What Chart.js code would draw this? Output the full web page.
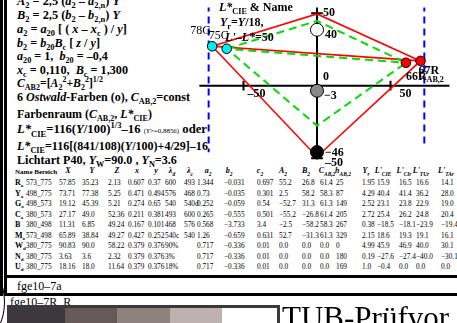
<!DOCTYPE html>
<html>
<head>
<meta charset="utf-8">
<script src="https://cdn.jsdelivr.net/npm/chart.js@4.4.1/dist/chart.umd.min.js"></script>
<style>
  html, body { margin: 0; padding: 0; background: #fff; }
  #page { position: relative; width: 457px; height: 323px; overflow: hidden;
          font-family: "Liberation Serif", "Times New Roman", serif; color: #000; }
  #chart { position: absolute; left: 0; top: 0; z-index: 2; }
  .ln { position: absolute; left: 17px; white-space: nowrap; font-weight: bold;
        font-size: 13px; line-height: 14px; z-index: 1; }
  .ln sub, .ln sup, .lbl sub, .th sub { font-size: 68%; line-height: 0; }
  .lbl { position: absolute; white-space: nowrap; font-weight: bold; font-size: 12px;
         line-height: 12px; z-index: 3; transform: translateY(-50%); }
  .lbl.thin { font-weight: normal; }
  .td { position: absolute; white-space: nowrap; font-size: 7.3px; line-height: 8px; z-index: 1; }
  .td b { font-size: 8px; }
  .td sub { font-size: 5px; line-height: 0; font-weight: bold; }
  .th { position: absolute; white-space: nowrap; font-size: 8px; line-height: 8px; font-weight: bold;
        font-style: italic; z-index: 1; transform: translateX(-50%); }
  .bar { position: absolute; background: #000; z-index: 1; }
</style>
</head>
<body>
<div id="page">
  <canvas id="chart" width="457" height="323"></canvas>
</div>
<script>
// ---- diagram values (A2 horizontal, L' vertical) ----
const redHullX = [-71.3, 0, 70.4, 0, -71.3, 70.4];
const redHullY = [27.2, 49.5, 17.1, -49, 27.2, 17.1];
const greenHullX = [-61.4, 0, 60.5, 0, -61.4, 60.5];
const greenHullY = [25.5, 44.7, 15.8, -27.6, 25.5, 15.8];
const cyanX = [-71.3, -61.4];
const cyanY = [27.2, 25.5];
const cyanNames = ['78G', '75C'];
const redX = [60.5, 70.4];
const redY = [15.8, 17.1];
const redNames = ['66R', '67R'];
const greyX = [0, 0, 0];
const greyY = [38.6, -3.5, -45.8];
const greyColors = ['#ffffff', '#888888', '#000000'];
const greyLabels = ['40', '−3', '−46'];
const blueX = [-73.7, 73];
const blueTop = 56;
const blueBottom = [-46, -40];
const xAxisRange = [-80, 92];
const yAxisRange = [56, -51];
const xTicks = [-50, 50];
const yTicks = [50, -50];

// ---- table values ----
const rowR = ['R', 'a', '573_775', '57.85', '35.23', '2.13', '0.607', '0.37', '600', '493', '1.344', '−0.031', '0.697', '55.2', '26.8', '61.4', '25', '1.95', '15.9', '16.5', '16.6', '14.1'];
const rowY = ['Y', 'a', '498_775', '73.71', '77.38', '5.25', '0.471', '0.494', '576', '468', '0.73', '−0.035', '0.301', '2.5', '58.2', '58.3', '87', '4.29', '40.4', '41.4', '36.2', '28.0'];
const rowG = ['G', 'o', '498_573', '19.12', '45.39', '5.21', '0.274', '0.65', '540', '540d', '0.252', '−0.059', '0.54', '−52.7', '31.3', '61.3', '149', '2.52', '23.1', '23.8', '22.9', '19.0'];
const rowC = ['C', 'a', '380_573', '27.17', '49.0', '52.36', '0.211', '0.381', '493', '600', '0.265', '−0.555', '0.501', '−55.2', '−26.8', '61.4', '205', '2.72', '25.4', '26.2', '24.8', '20.4'];
const rowB = ['B', '', '380_498', '11.31', '6.85', '49.24', '0.167', '0.101', '468', '576', '0.568', '−3.733', '3.4', '−2.5', '−58.2', '58.3', '267', '0.38', '−18.5', '−18.1', '−23.9', '−19.4'];
const rowM = ['M', 'o', '573_498', '65.89', '38.84', '49.27', '0.427', '0.252', '540c', '540', '1.26', '−0.659', '0.631', '52.7', '−31.3', '61.3', '329', '2.15', '18.6', '19.3', '19.1', '16.1'];
const rowW = ['W', 'd', '380_775', '90.83', '90.0', '58.22', '0.379', '0.376', '90%', '', '0.717', '−0.336', '0.01', '0.0', '0.0', '0.0', '0', '4.99', '45.9', '46.9', '40.0', '30.1'];
const rowN = ['N', 'd', '380_775', '3.63', '3.6', '2.32', '0.379', '0.376', '3%', '', '0.717', '−0.336', '0.01', '0.0', '0.0', '0.0', '180', '0.19', '−27.6', '−27.4', '−40.0', '−30.1'];
const rowU = ['U', 'd', '380_775', '18.16', '18.0', '11.64', '0.379', '0.376', '18%', '', '0.717', '−0.336', '0.01', '0.0', '0.0', '0.0', '169', '1.0', '−0.4', '0.0', '0.0', '0.0'];
const tableRows = [rowR, rowY, rowG, rowC, rowB, rowM, rowW, rowN, rowU];
const headers = ['<i>X</i>', '<i>Y</i>', '<i>Z</i>', '<i>x</i>', '<i>y</i>', 'λ<sub>d</sub>', 'λ<sub>c</sub>',
  '<i>a</i><sub>2</sub>', '<i>b</i><sub>2</sub>', '<i>c</i><sub>2</sub>', '<i>A</i><sub>2</sub>', '<i>B</i><sub>2</sub>',
  '<i>C</i><sub>AB,2</sub>', '<i>h</i><sub>AB,2</sub>', '<i>Y</i><sub>r</sub>', '<i>L\'</i><sub>CIE</sub>',
  '<i>L\'</i><sub>CIr</sub>', '<i>L\'</i><sub>TUr</sub>', '<i>L\'</i><sub>TAr</sub>'];

// ---- left text block ----
const textLines = [
  '<i>A</i><sub>2</sub> = 2,5 (<i>a</i><sub>2</sub> – <i>a</i><sub>2,n</sub>) <i>Y</i>',
  '<i>B</i><sub>2</sub> = 2,5 (<i>b</i><sub>2</sub> – <i>b</i><sub>2,n</sub>) <i>Y</i>',
  '<i>a</i><sub>2</sub> = <i>a</i><sub>20</sub> [ ( <i>x</i> – <i>x</i><sub>c</sub> ) / <i>y</i>]',
  '<i>b</i><sub>2</sub> = <i>b</i><sub>20</sub><i>B</i><sub>c</sub> [ <i>z</i> / <i>y</i>]',
  '<i>a</i><sub>20</sub> = 1,&nbsp; <i>b</i><sub>20</sub> = –0,4',
  '<i>x</i><sub>c</sub> = 0,110,&nbsp; <i>B</i><sub>c</sub> = 1,300',
  '<i>C</i><sub>AB2</sub>=[<i>A</i><sub>2</sub><sup>2</sup>+<i>B</i><sub>2</sub><sup>2</sup>]<sup>1/2</sup>',
  '6 <i>Ostwald</i>-Farben (o), <i>C</i><sub>AB,2</sub>=const',
  'Farbenraum (<i>C</i><sub>AB,2</sub>, <i>L*</i><sub>CIE</sub>)',
  '<i>L*</i><sub>CIE</sub>=116(<i>Y</i>/100)<sup>1/3</sup>–16 <span style="font-size:55%;font-weight:normal">(<i>Y</i>&gt;=0,8856)</span> oder',
  '<i>L*</i><sub>CIE</sub>=116[(841/108)(<i>Y</i>/100)+4/29]–16',
  'Lichtart P40, <i>Y</i><sub>W</sub>=90.0 , <i>Y</i><sub>N</sub>=3.6'
];
const lineCenters = [1, 15, 29, 43, 56, 70, 84, 97, 114, 129, 146, 160];
const lineEnds = [120, 120, 127, 100, 108, 128, 103, 190, 152, 207, 208, 177];

const page = document.getElementById('page');
function add(cls, html, css) {
  const d = document.createElement('div');
  d.className = cls;
  d.innerHTML = html;
  Object.assign(d.style, css);
  page.appendChild(d);
  return d;
}

// each text line is sized so that it ends where it does in the reference
textLines.forEach((t, i) => {
  const d = add('ln', t, {});
  const w = d.getBoundingClientRect().width;
  const fs = Math.max(10.5, Math.min(14.5, 13 * (lineEnds[i] - 17) / w));
  d.style.fontSize = fs.toFixed(2) + 'px';
  d.style.top = (lineCenters[i] - 7) + 'px';
});

// table
const colX = [15, 26, 59, 82, 108, 128, 148, 165, 184, 197, 224, 257, 279, 302, 320, 336, 362, 377, 399, 416, 441];
const headX = [68, 92, 117, 137, 156, 172, 190, 208, 229, 260, 283, 306, 327, 343, 366, 383, 404, 421, 446];
const headY = 172, rowY0 = 183, rowStep = 10.5;
add('td', '<b style="font-size:7px">Name Bereich</b>', { left: '15px', top: (headY - 4) + 'px' });
headers.forEach((h, i) => add('th', h, { left: headX[i] + 'px', top: (headY - 5) + 'px' }));
tableRows.forEach((row, r) => {
  const top = (rowY0 + r * rowStep - 4) + 'px';
  add('td', '<b>' + row[0] + '</b><sub>' + row[1] + '</sub>', { left: colX[0] + 'px', top });
  row.slice(2).forEach((v, c) => add('td', v, { left: colX[c + 1] + 'px', top }));
});

// frame lines and footer
add('bar', '', { left: '0px', top: '0px', width: '3px', height: '296px' });
add('bar', '', { left: '4px', top: '0px', width: '3px', height: '296px' });
add('bar', '', { left: '7px', top: '275px', width: '450px', height: '3px' });
add('bar', '', { left: '4px', top: '293px', width: '453px', height: '3px' });
add('ln', '<span style="font-weight:normal;font-size:12px">fge10–7a</span>', { left: '17px', top: '279px' });
add('ln', '<span style="font-weight:normal;font-size:12px">fge10–7R&nbsp; R</span>', { left: '10px', top: '295px' });
add('bar', '', { left: '-35px', top: '267px', width: '38px', height: '68px', background: 'none',
  border: '1px solid #000', borderRadius: '50%', zIndex: 3 });
const swatchColors = ['#3b393d', '#665957', '#8d807d', '#bdb2af', '#ffffff'];
const swatchX = [7, 65, 117, 170, 222, 277];
swatchColors.forEach((c, i) => add('bar', '', { left: swatchX[i] + 'px', top: '305px',
  width: (swatchX[i + 1] - swatchX[i]) + 'px', height: '18px', background: c, zIndex: 4 }));
add('bar', '', { left: '7px', top: '305px', width: '273px', height: '3px', background: '#3a393d', zIndex: 4 });
add('bar', '', { left: '277px', top: '305px', width: '3px', height: '18px', background: '#3a393d', zIndex: 4 });
add('ln', '<span style="font-weight:normal;font-size:31px;line-height:31px">TUB-Prüfvor</span>',
  { left: '282px', top: '302px', zIndex: 4 });

// ---- diagram ----
const origin = { x: 320, y: 82 };
const pxPerUnit = 1.52;
const W = 457, H = 323;

const pts = (xs, ys) => xs.map((x, i) => ({ x, y: ys[i] }));
const seg = (a, b, color, width, dash) => ({
  data: [a, b], showLine: true, borderColor: color, borderWidth: width,
  borderDash: dash || [], pointRadius: 0, fill: false
});

const datasets = [
  { data: pts(greyX, greyY), pointRadius: 6.5, pointBackgroundColor: greyColors,
    pointBorderColor: '#000', pointBorderWidth: 1, showLine: false },
  { data: pts(redX, redY), pointRadius: 4.8, pointBackgroundColor: '#ff0000',
    pointBorderColor: '#000', pointBorderWidth: 1, showLine: false },
  { data: pts(cyanX, cyanY), pointRadius: 4.8, pointBackgroundColor: '#00f0f0',
    pointBorderColor: '#000', pointBorderWidth: 1, showLine: false },
  { data: pts(greenHullX, greenHullY), showLine: true, borderColor: '#00dd00', borderWidth: 2,
    borderDash: [8, 5], pointRadius: 0 },
  { data: pts(redHullX, redHullY), showLine: true, borderColor: '#ff0000', borderWidth: 1.6,
    pointRadius: 0 },
  seg({ x: xAxisRange[0], y: 0 }, { x: xAxisRange[1], y: 0 }, '#000', 2),
  seg({ x: 0, y: yAxisRange[0] }, { x: 0, y: yAxisRange[1] }, '#000', 2)
];
xTicks.forEach(t => datasets.push(seg({ x: t, y: 3.4 }, { x: t, y: -3.4 }, '#000', 2)));
yTicks.forEach(t => datasets.push(seg({ x: -4, y: t }, { x: 4, y: t }, '#000', 2)));
blueX.forEach((x, i) => datasets.push(seg({ x, y: blueTop }, { x, y: blueBottom[i] }, '#0000ff', 2, [7, 5])));

const chart = new Chart(document.getElementById('chart'), {
  type: 'scatter',
  data: { datasets },
  options: {
    responsive: false,
    animation: false,
    devicePixelRatio: 1,
    layout: { padding: 0 },
    plugins: { legend: { display: false }, tooltip: { enabled: false } },
    scales: {
      x: { display: false, min: -origin.x / pxPerUnit, max: (W - origin.x) / pxPerUnit },
      y: { display: false, min: -(H - origin.y) / pxPerUnit, max: origin.y / pxPerUnit }
    }
  }
});

// labels anchored in data units, offset in pixels
const labels = [
  { x: 0, y: yTicks[0], dx: 6, dy: -1, html: '50' },
  { x: 0, y: yTicks[1], dx: 8, dy: 4, html: '–50' },
  { x: xTicks[0], y: 0, dx: 4, dy: 7, html: '–50' },
  { x: xTicks[1], y: 0, dx: 9, dy: 7, html: '50' },
  { x: greyX[0], y: greyY[0], dx: 8, dy: 4, html: greyLabels[0] },
  { x: greyX[1], y: greyY[1], dx: 6, dy: -15, html: '0' },
  { x: greyX[1], y: greyY[1], dx: 7, dy: 4, html: greyLabels[1] },
  { x: greyX[2], y: greyY[2], dx: 8, dy: 0, html: greyLabels[2] },
  { x: redX[0], y: redY[0], dx: 0, dy: 13, html: redNames[0] },
  { x: redX[1], y: redY[1], dx: -2, dy: 9, html: redNames[1] },
  { x: redX[1], y: 0, dx: -2, dy: -11, html: '<i>C</i><sub>AB,2</sub>' },
  { x: cyanX[0], y: cyanY[0], dx: -22, dy: -16, html: cyanNames[0], thin: true },
  { x: cyanX[1], y: cyanY[1], dx: -18, dy: -14, html: cyanNames[1], thin: true },
  { x: 0, y: yTicks[0], dx: -98, dy: -6, html: '<i>L*</i><sub>CIE</sub> &amp; Name' },
  { x: 0, y: yTicks[0], dx: -97, dy: 9, html: '<i>Y</i><sub>r</sub>=<i>Y</i>/18,' },
  { x: 0, y: yTicks[0], dx: -92, dy: 24, html: '<i>L\'</i>–<i>L*</i>=50' }
];
const sx = chart.scales.x, sy = chart.scales.y;
labels.forEach(l => add('lbl' + (l.thin ? ' thin' : ''), l.html, {
  left: (sx.getPixelForValue(l.x) + l.dx) + 'px',
  top: (sy.getPixelForValue(l.y) + l.dy) + 'px'
}));
</script>
</body>
</html>
